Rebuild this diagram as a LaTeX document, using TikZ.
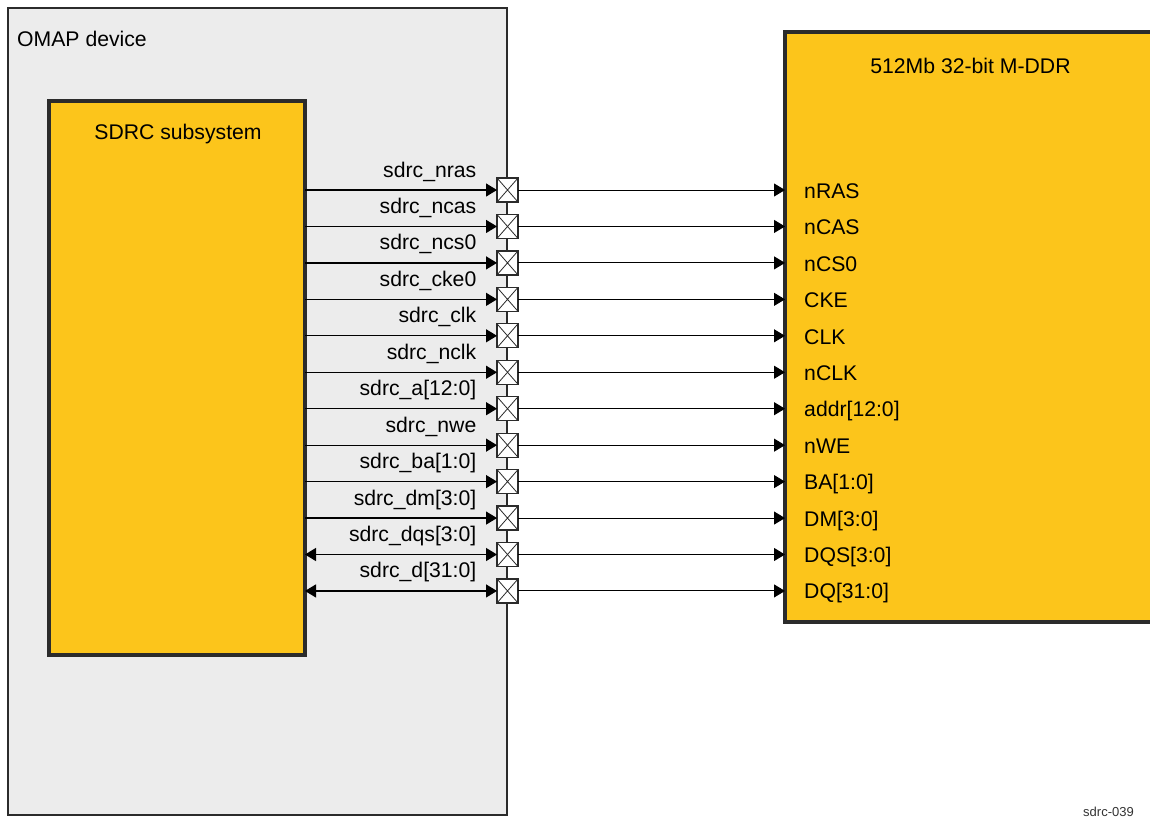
\documentclass[tikz,border=0pt]{standalone}
\usepackage{fontspec}
\setmainfont{Liberation Sans}
\usetikzlibrary{arrows.meta, positioning}
\definecolor{cyellow}{HTML}{FCC51B}
\definecolor{cgrey}{HTML}{ECECEC}
\definecolor{cdark}{HTML}{2B2B2B}
\tikzset{
  every picture/.style={font=\fontsize{21.2}{25}\selectfont, x=1pt, y=-1pt},
  chip/.style={draw=cdark, fill=#1, line width=3.2pt, inner sep=0pt, outer sep=0pt, anchor=north west},
  chip/.default=cyellow,
  pad/.style={draw=cdark, fill=white, line width=1.2pt, minimum width=21pt, minimum height=24pt, inner sep=0pt, outer sep=0pt,
    path picture={\draw[line width=0.8pt] (path picture bounding box.north west) -- (path picture bounding box.south east)
      (path picture bounding box.north east) -- (path picture bounding box.south west);}},
  sig/.style={-{Triangle[length=11pt, width=13pt]}, line width=1.3pt, draw=black},
  bisig/.style={{Triangle[length=11pt, width=13pt]}-{Triangle[length=11pt, width=13pt]}, line width=1.3pt, draw=black},
  wire/.style={-{Triangle[length=11pt, width=13pt]}, line width=1pt, draw=black},
  lbl/.style={inner sep=0pt, anchor=base east, text=black},
  pin/.style={inner sep=0pt, anchor=base west, text=black},
}
\begin{document}
\begin{tikzpicture}
  \useasboundingbox (0,0) rectangle (1150,817);
  % boxes
  \node[chip=cgrey, draw=cdark, line width=2.2pt, minimum width=499pt, minimum height=807pt] (omap) at (8,8) {};
  \node[chip, minimum width=256pt, minimum height=554pt] (sdrc) at (49,101) {};
  \node[chip, minimum width=380pt, minimum height=590pt] (mem) at (785,32) {};
  \node[inner sep=0pt, anchor=base west] (omaptxt) at (17,46) {OMAP device};
  \node[inner sep=0pt, anchor=base] (sdrctxt) at (178,139) {SDRC subsystem};
  \node[inner sep=0pt, anchor=base] (memtxt) at (970.5,73) {512Mb 32-bit M-DDR};
  % signals: pad, wires, both labels
  \foreach \k/\lname/\rname/\sty in {
    1/sdrc\_nras/nRAS/sig, 2/sdrc\_ncas/nCAS/sig, 3/sdrc\_ncs0/nCS0/sig, 4/sdrc\_cke0/CKE/sig,
    5/sdrc\_clk/CLK/sig, 6/sdrc\_nclk/nCLK/sig, 7/sdrc\_a[12:0]/addr[12:0]/sig, 8/sdrc\_nwe/nWE/sig,
    9/sdrc\_ba[1:0]/BA[1:0]/sig, 10/sdrc\_dm[3:0]/DM[3:0]/sig,
    11/sdrc\_dqs[3:0]/DQS[3:0]/bisig, 12/sdrc\_d[31:0]/DQ[31:0]/bisig} {
    \node[pad] (p\k) at (507.5, {190+(\k-1)*36.45}) {};
    \draw[\sty] (sdrc.east |- p\k) -- (p\k.west);
    \draw[wire] (p\k.east) -- (mem.west |- p\k);
    \node[lbl] (l\k) at (476.5, {177+(\k-1)*36.45}) {\lname};
    \node[pin] (r\k) at (804, {198.5+(\k-1)*36.4}) {\rname};
  }
  \node[inner sep=0pt, anchor=base west, font=\fontsize{13}{15}\selectfont, text=black!80] (tag) at (1083,816) {sdrc-039};
\end{tikzpicture}
\end{document}
